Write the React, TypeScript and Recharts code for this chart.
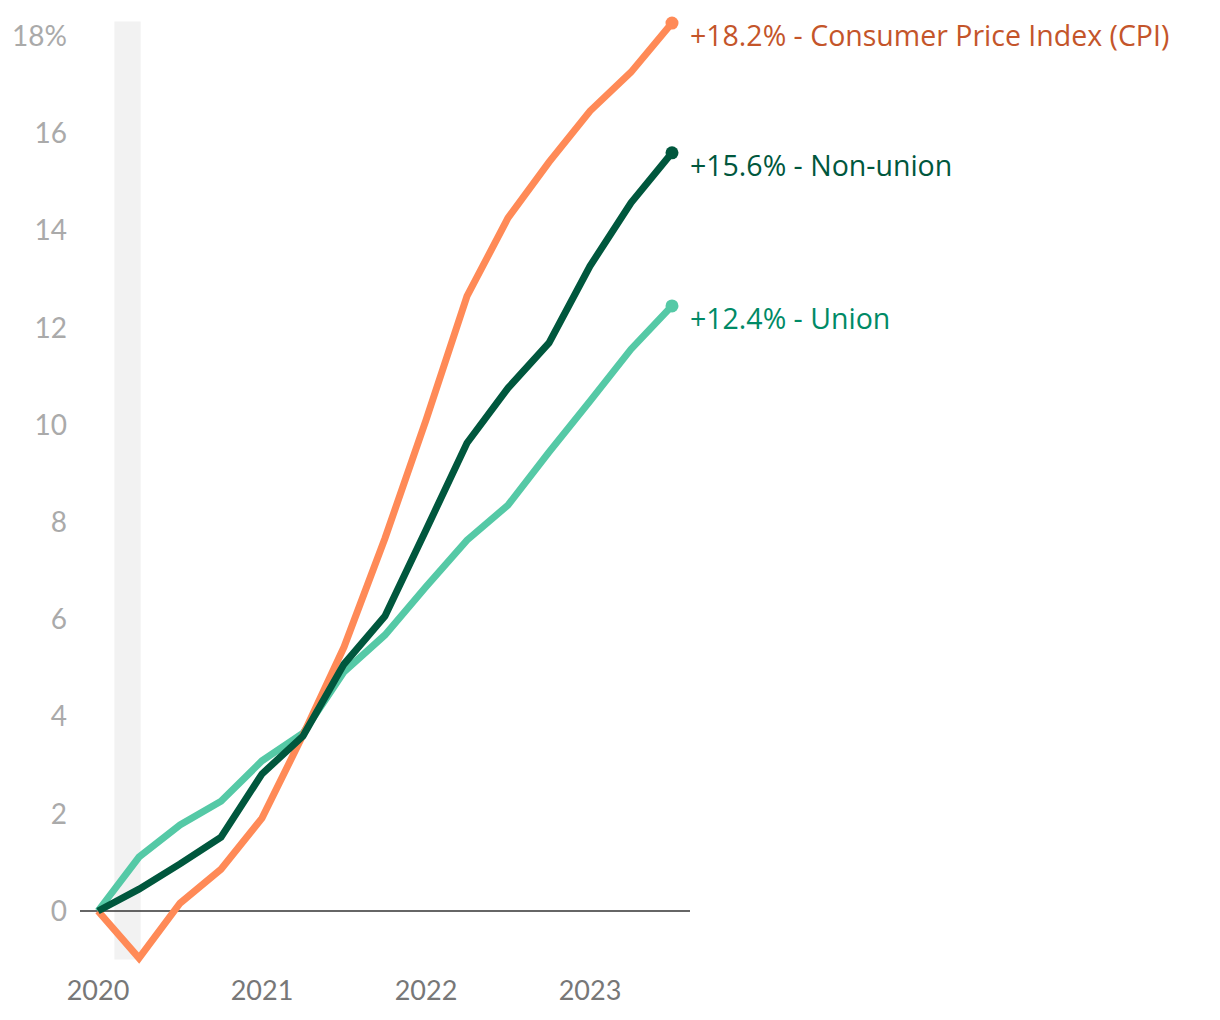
import React from 'react';
import { LineChart, Line, XAxis, YAxis, ReferenceArea, ReferenceLine, LabelList } from 'recharts';

const quarters = [2020, 2020.25, 2020.5, 2020.75, 2021, 2021.25, 2021.5, 2021.75, 2022, 2022.25, 2022.5, 2022.75, 2023, 2023.25, 2023.5];
const cpi = [0, -0.97, 0.16, 0.86, 1.91, 3.62, 5.43, 7.67, 10.1, 12.65, 14.26, 15.41, 16.46, 17.26, 18.27];
const nonUnion = [0, 0.45, 0.97, 1.52, 2.82, 3.6, 5.08, 6.07, 7.84, 9.63, 10.76, 11.69, 13.27, 14.57, 15.6];
const union = [0, 1.11, 1.77, 2.26, 3.09, 3.66, 4.92, 5.68, 6.67, 7.63, 8.35, 9.44, 10.49, 11.56, 12.45];
const yTicks = [0, 2, 4, 6, 8, 10, 12, 14, 16, 18];
const xTicks = [2020, 2021, 2022, 2023];
const recession = [2020.1, 2020.26];
const labels = {
  cpi: '+18.2% - Consumer Price Index (CPI)',
  nonUnion: '+15.6% - Non-union',
  union: '+12.4% - Union',
};

const data = quarters.map((q, i) => ({ q, cpi: cpi[i], nonUnion: nonUnion[i], union: union[i] }));

const FONT = '"Open Sans", Lato, sans-serif';
const TICK_FONT = 'Lato, "Open Sans", sans-serif';
const last = quarters.length - 1;

const endLabel = (text: string, color: string) => (props: any) => {
  const { x, y, index } = props;
  if (index !== last) return null;
  return (
    <text x={x + 18} y={y + 23} fill={color} fontSize={28.5} fontFamily={FONT}>
      {text}
    </text>
  );
};

const endDot = (color: string) => (props: any) => {
  const { cx, cy, index } = props;
  if (index !== last) return <g key={index} />;
  return <circle key={index} cx={cx} cy={cy} r={6.5} fill={color} />;
};

const XTick = (props: any) => {
  const { x, y, payload } = props;
  return (
    <text x={x} y={y + 40} textAnchor="middle" fill="#777" fontSize={27} fontFamily={TICK_FONT}>
      {payload.value}
    </text>
  );
};

const YTick = (props: any) => {
  const { x, y, payload } = props;
  return (
    <text x={x - 13} y={y} dy="0.35em" textAnchor="end" fill="#aaa" fontSize={28} fontFamily={TICK_FONT}>
      {payload.value === 18 ? '18%' : payload.value}
    </text>
  );
};

export default function App() {
  return (
    <div style={{ fontFamily: FONT }}>
      <LineChart width={1204} height={1004} data={data} margin={{ top: 13.6, right: 522, bottom: 0, left: 0 }}>
        <XAxis
          dataKey="q"
          type="number"
          domain={[2019.8902, 2023.6098]}
          ticks={xTicks}
          axisLine={false}
          tickLine={false}
          tickSize={0}
          tickMargin={0}
          height={52.4}
          tick={XTick}
        />
        <YAxis
          type="number"
          domain={[-1, 18.3]}
          ticks={yTicks}
          axisLine={false}
          tickLine={false}
          tickSize={0}
          tickMargin={0}
          width={72}
          tick={YTick}
        />
        <ReferenceArea x1={recession[0]} x2={recession[1]} y1={-1} y2={18.3} fill="#f2f2f2" fillOpacity={1} stroke="none" />
        <ReferenceLine y={0} stroke="#333" strokeWidth={1.5} />
        <Line dataKey="union" stroke="#55c9a6" strokeWidth={7} dot={endDot('#55c9a6')} isAnimationActive={false} strokeLinejoin="miter">
          <LabelList dataKey="union" content={endLabel(labels.union, '#008a66')} />
        </Line>
        <Line dataKey="cpi" stroke="#ff8a57" strokeWidth={7} dot={endDot('#ff8a57')} isAnimationActive={false} strokeLinejoin="miter">
          <LabelList dataKey="cpi" content={endLabel(labels.cpi, '#c4552a')} />
        </Line>
        <Line dataKey="nonUnion" stroke="#00573d" strokeWidth={7} dot={endDot('#00573d')} isAnimationActive={false} strokeLinejoin="miter">
          <LabelList dataKey="nonUnion" content={endLabel(labels.nonUnion, '#00573d')} />
        </Line>
      </LineChart>
    </div>
  );
}
